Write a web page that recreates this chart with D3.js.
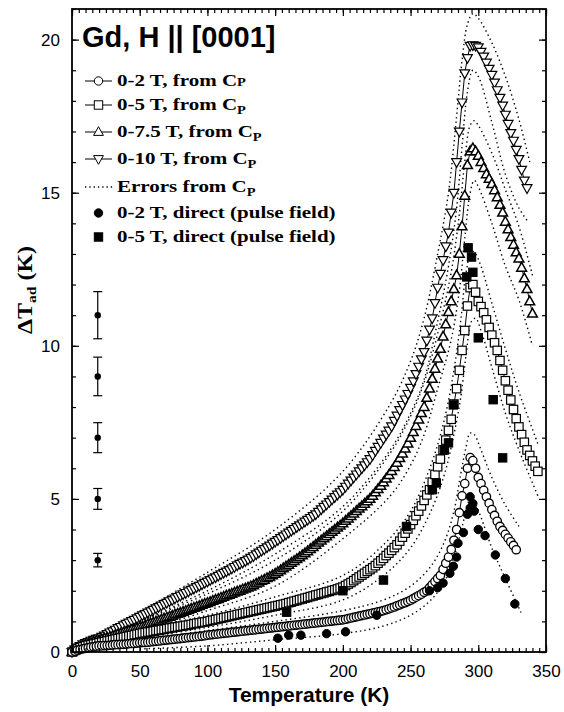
<!DOCTYPE html>
<html><head><meta charset="utf-8">
<script src="https://cdn.jsdelivr.net/npm/d3@7"></script>
<style>body{margin:0;background:#fff}svg{display:block}</style>
</head><body>
<svg id="c" width="564" height="712"></svg>
<script>
// ---------- DATA ----------
const temps = [0,2,4,6,8,10,12,14,16,18,20,22,24,26,28,30,32,34,36,38,40,42,44,46,48,50,52,54,56,58,60,62,64,66,68,70,72,74,76,78,80,82,84,86,88,90,92,94,96,98,
100,102,104,106,108,110,112,114,116,118,120,122,124,126,128,130,132,134,136,138,140,142,144,146,148,150,152,154,156,158,160,162,164,166,168,170,172,174,176,178,180,182,184,186,188,190,192,194,196,198,
200,202,204,206,208,210,212,214,216,218,220,222,224,226,228,230,232,234,236,238,240,242,244,246,248,250,252,254,256,258,260,262,264,266,268,270,272,274,276,278,280,282,284,286,288,290,292,294,296,298,
300,302,304,306,308,310,312,314,316,318,320,322,324,326,328,330,332,334,336,338,340,342,344];

// 0-10 T, from Cp
const cp10 = [0,0.08,0.15,0.20,0.25,0.29,0.33,0.37,0.40,0.43,0.45,0.50,0.54,0.59,0.64,0.68,0.73,0.78,0.82,0.87,0.92,0.96,1.01,1.05,1.10,1.15,1.20,1.24,1.29,1.33,1.38,1.43,1.47,1.52,1.57,1.61,1.66,1.70,1.75,1.80,1.84,1.89,1.93,1.98,2.03,2.07,2.12,2.16,2.21,2.26,
2.30,2.35,2.40,2.44,2.49,2.54,2.59,2.63,2.68,2.73,2.78,2.83,2.88,2.92,2.97,3.02,3.08,3.13,3.19,3.25,3.31,3.36,3.42,3.48,3.54,3.60,3.66,3.72,3.78,3.84,3.90,3.96,4.02,4.08,4.14,4.20,4.26,4.32,4.38,4.44,4.50,4.58,4.66,4.74,4.82,4.90,4.98,5.06,5.14,5.22,
5.30,5.40,5.50,5.60,5.70,5.80,5.90,6.00,6.10,6.20,6.30,6.43,6.57,6.70,6.83,6.97,7.10,7.23,7.37,7.55,7.72,7.90,8.07,8.25,8.43,8.63,8.84,9.08,9.32,9.56,9.80,10.17,10.53,10.90,11.40,11.90,12.35,12.80,13.25,13.70,14.35,15.00,16.00,17.00,17.95,18.90,19.40,19.80,19.82,19.80,
19.75,19.60,19.45,19.25,19.05,18.85,18.60,18.35,18.10,17.85,17.55,17.25,16.95,16.70,16.40,16.10,15.75,15.40,15.15];

// 0-7.5 T, from Cp
const cp75 = [0,0.06,0.11,0.16,0.20,0.24,0.27,0.30,0.33,0.36,0.38,0.41,0.44,0.46,0.49,0.52,0.55,0.58,0.60,0.63,0.66,0.69,0.72,0.74,0.77,0.80,0.83,0.86,0.90,0.93,0.96,0.99,1.02,1.06,1.09,1.12,1.15,1.18,1.22,1.25,1.28,1.31,1.34,1.38,1.41,1.44,1.47,1.50,1.54,1.57,
1.60,1.63,1.67,1.70,1.73,1.77,1.80,1.84,1.87,1.90,1.94,1.97,2.00,2.04,2.07,2.10,2.14,2.18,2.23,2.27,2.32,2.36,2.41,2.45,2.50,2.55,2.61,2.67,2.73,2.79,2.85,2.91,2.97,3.03,3.09,3.16,3.22,3.29,3.36,3.43,3.50,3.57,3.64,3.71,3.78,3.85,3.92,3.99,4.06,4.13,
4.20,4.28,4.36,4.44,4.52,4.60,4.68,4.76,4.84,4.92,5.00,5.10,5.21,5.32,5.43,5.54,5.66,5.78,5.91,6.04,6.18,6.33,6.48,6.64,6.81,6.99,7.18,7.38,7.59,7.80,8.00,8.30,8.60,8.92,9.25,9.58,9.90,10.30,10.70,11.10,11.45,11.85,12.30,13.00,13.90,14.90,15.90,16.35,16.45,16.35,
16.20,16.00,15.80,15.60,15.45,15.28,15.08,14.85,14.60,14.35,14.05,13.80,13.55,13.30,13.05,12.85,12.55,12.20,11.85,11.45,11.05];

// 0-5 T, from Cp
const cp5 = [0,0.05,0.10,0.14,0.17,0.20,0.22,0.24,0.26,0.28,0.30,0.32,0.34,0.36,0.38,0.40,0.42,0.44,0.46,0.48,0.50,0.52,0.54,0.56,0.58,0.60,0.62,0.63,0.65,0.66,0.68,0.70,0.71,0.73,0.74,0.76,0.78,0.79,0.81,0.82,0.84,0.85,0.87,0.88,0.90,0.92,0.94,0.95,0.97,0.98,
1.00,1.02,1.04,1.06,1.08,1.10,1.12,1.14,1.16,1.18,1.20,1.22,1.24,1.26,1.28,1.30,1.32,1.34,1.36,1.38,1.40,1.42,1.44,1.46,1.48,1.50,1.52,1.54,1.56,1.58,1.61,1.63,1.66,1.68,1.71,1.73,1.76,1.78,1.81,1.83,1.86,1.88,1.91,1.93,1.96,1.98,2.01,2.03,2.06,2.09,
2.12,2.17,2.22,2.27,2.33,2.39,2.45,2.51,2.57,2.63,2.69,2.75,2.82,2.90,2.98,3.06,3.15,3.23,3.32,3.41,3.50,3.62,3.75,3.88,4.02,4.16,4.30,4.45,4.60,4.77,4.95,5.13,5.30,5.55,5.80,6.05,6.30,6.60,6.92,7.24,7.60,8.10,8.60,9.20,9.85,10.50,11.30,11.90,12.00,11.75,
11.45,11.28,11.08,10.85,10.60,10.35,10.10,9.85,9.52,9.20,8.86,8.55,8.23,7.92,7.62,7.35,7.10,6.85,6.60,6.42,6.24,6.07,5.90];

// 0-2 T, from Cp
const cp2 = [0,0.03,0.06,0.08,0.10,0.12,0.14,0.16,0.17,0.19,0.20,0.20,0.21,0.21,0.22,0.23,0.24,0.24,0.25,0.25,0.26,0.27,0.28,0.28,0.29,0.30,0.31,0.31,0.32,0.33,0.34,0.35,0.36,0.37,0.38,0.39,0.40,0.41,0.42,0.43,0.44,0.45,0.46,0.47,0.48,0.49,0.50,0.51,0.52,0.53,
0.55,0.56,0.57,0.58,0.59,0.60,0.61,0.62,0.63,0.64,0.65,0.66,0.67,0.68,0.69,0.70,0.71,0.72,0.73,0.74,0.75,0.76,0.77,0.78,0.79,0.80,0.81,0.82,0.83,0.84,0.85,0.86,0.87,0.88,0.89,0.90,0.91,0.92,0.93,0.94,0.95,0.96,0.97,0.98,0.99,1.00,1.01,1.02,1.03,1.04,
1.05,1.07,1.09,1.11,1.13,1.15,1.17,1.19,1.21,1.23,1.25,1.27,1.29,1.31,1.33,1.35,1.38,1.41,1.44,1.47,1.51,1.54,1.58,1.61,1.65,1.69,1.74,1.79,1.84,1.89,1.95,2.00,2.10,2.20,2.30,2.40,2.50,2.70,2.90,3.10,3.35,3.65,4.00,4.55,5.10,5.50,6.00,6.35,6.25,6.00,
5.70,5.50,5.28,5.07,4.86,4.65,4.46,4.27,4.10,3.97,3.84,3.72,3.60,3.48,3.34];

// error bounds from Cp: [T, dTad]
const err10Up = [[50,1.3],[100,2.6],[150,4.0],[200,5.9],[235,8.1],[250,9.5],[260,10.9],[270,13.0],[278,15.0],[284,17.5],[288,19.3],[292,20.5],[296,20.85],[300,20.7],[310,19.9],[320,18.8],[330,17.4],[338,16.0]];
const err10Lo = [[50,1.0],[100,2.0],[150,3.2],[200,4.75],[235,6.6],[250,7.8],[260,8.9],[270,10.8],[278,12.6],[284,14.5],[288,16.5],[292,18.3],[296,19.0],[300,18.8],[310,17.3],[320,15.6],[330,14.5],[336,14.1]];
const err75Up = [[50,1.0],[100,1.9],[150,3.0],[200,4.6],[235,6.5],[250,7.7],[260,8.8],[270,10.4],[280,12.4],[286,14.3],[290,16.0],[294,17.2],[297,17.35],[300,17.2],[310,16.3],[320,15.1],[330,13.9],[340,12.3]];
const err75Lo = [[50,0.65],[100,1.35],[150,2.15],[200,3.7],[235,5.1],[250,6.1],[260,7.1],[270,8.6],[280,10.2],[286,11.8],[290,13.5],[294,15.0],[297,15.4],[300,15.2],[310,14.0],[320,12.6],[330,11.5],[340,10.0]];
const err5Up = [[50,0.75],[100,1.2],[150,1.8],[200,2.5],[230,3.5],[250,4.6],[265,6.1],[275,7.6],[282,9.2],[287,10.8],[291,12.4],[295,13.1],[298,13.0],[302,12.6],[310,11.4],[320,9.9],[330,8.5],[344,6.8]];
const err5Lo = [[50,0.45],[100,0.8],[150,1.2],[200,1.7],[230,2.5],[250,3.4],[265,4.6],[275,5.8],[282,7.1],[287,8.3],[291,9.7],[295,10.8],[298,10.9],[302,10.5],[310,9.3],[320,7.8],[330,6.6],[344,5.1]];
const err2Up = [[50,0.4],[100,0.7],[150,1.0],[200,1.35],[230,1.7],[250,2.15],[265,2.8],[275,3.6],[282,4.6],[287,5.8],[291,6.7],[294,7.15],[297,7.1],[302,6.6],[310,5.7],[320,4.8],[330,4.1]];
const err2Lo = [[50,0.1],[100,0.2],[150,0.4],[200,0.6],[230,0.85],[250,1.2],[265,1.7],[275,2.3],[282,3.1],[287,3.9],[291,4.6],[294,5.0],[297,4.9],[302,4.4],[310,3.4],[320,2.4],[332,1.25]];

// direct (pulse field) measurements: [T, dTad]
const direct2 = [[152,0.45],[160,0.55],[169,0.55],[188,0.6],[202,0.66],[225,1.2],[264,2.0],[270,2.1],[274,2.25],[279,2.57],[281.6,2.8],[284,3.1],[285,3.55],[289,3.9],[292,4.5],[294,4.7],[294,5.07],[296,4.85],[297,4.6],[300,4.0],[305,3.8],[312.6,3.17],[320,2.4],[327,1.57]];
const direct5 = [[158.5,1.3],[200,2.0],[230,2.35],[247,4.1],[266,5.3],[269,5.52],[275,6.6],[278,6.83],[281.6,8.07],[291.5,12.25],[292.5,13.2],[295,12.9],[296,12.4],[300,10.26],[311,8.24],[318,6.34]];

// typical error bars of the direct method (shown at left)
const barT = 19;
const barVals = [3,5,7,9,11];
const barErr = [0.22,0.34,0.49,0.63,0.77];

const xTicks = [0,50,100,150,200,250,300,350];
const yTicks = [0,5,10,15,20];

// ---------- CHART ----------
const svg = d3.select('#c');
const L = 72, R = 546, T0 = 9, B = 652;
const x = d3.scaleLinear().domain([0,350]).range([L,R]);
const y = d3.scaleLinear().domain([0,21]).range([B,T0]);

const pts = vals => vals.map((v,i)=>[temps[i], v]);

const dotted = d3.line().x(d=>x(d[0])).y(d=>y(d[1])).curve(d3.curveCatmullRom.alpha(0.5));
[err10Up,err10Lo,err75Up,err75Lo,err5Up,err5Lo,err2Up,err2Lo].forEach(e=>{
  svg.append('path').attr('d',dotted(e)).attr('fill','none').attr('stroke','#000')
    .attr('stroke-width',1.4).attr('stroke-dasharray','1.4,3.2');
});

const solid = d3.line().x(d=>x(d[0])).y(d=>y(d[1]));
const series = [
  {vals:cp10, sym:'tdown', sw:1.2},
  {vals:cp75, sym:'tup', sw:1.5},
  {vals:cp5, sym:'square', sw:1.2},
  {vals:cp2, sym:'circle', sw:1.3}
];
function drawSym(g, type, cx, cy, filled, sw){
  const fill = filled ? '#000' : '#fff';
  sw = sw || 1;
  if(type==='circle'){
    g.append('circle').attr('cx',cx).attr('cy',cy).attr('r',4.2).attr('fill',fill).attr('stroke','#000').attr('stroke-width',sw);
  } else if(type==='square'){
    g.append('rect').attr('x',cx-4.2).attr('y',cy-4.2).attr('width',8.4).attr('height',8.4).attr('fill',fill).attr('stroke','#000').attr('stroke-width',sw);
  } else if(type==='tup'){
    g.append('path').attr('d',`M${cx},${cy-5.3}L${cx+4.9},${cy+3.4}L${cx-4.9},${cy+3.4}Z`).attr('fill',fill).attr('stroke','#000').attr('stroke-width',sw);
  } else if(type==='tdown'){
    g.append('path').attr('d',`M${cx},${cy+5.3}L${cx+4.9},${cy-3.4}L${cx-4.9},${cy-3.4}Z`).attr('fill',fill).attr('stroke','#000').attr('stroke-width',sw);
  }
}
series.forEach(s=>{
  const p = pts(s.vals);
  svg.append('path').attr('d',solid(p)).attr('fill','none').attr('stroke','#000').attr('stroke-width',1);
  const g = svg.append('g');
  p.forEach(d=>drawSym(g, s.sym, x(d[0]), y(d[1]), false, s.sw));
});

const gd = svg.append('g');
direct2.forEach(d=>drawSym(gd,'circle',x(d[0]),y(d[1]),true));
direct5.forEach(d=>drawSym(gd,'square',x(d[0]),y(d[1]),true));

const ge = svg.append('g');
barVals.forEach((v,i)=>{
  const cx = x(barT);
  ge.append('line').attr('x1',cx).attr('x2',cx).attr('y1',y(v-barErr[i])).attr('y2',y(v+barErr[i])).attr('stroke','#000').attr('stroke-width',1.2);
  [v-barErr[i], v+barErr[i]].forEach(e=>ge.append('line').attr('x1',cx-4.5).attr('x2',cx+4.5).attr('y1',y(e)).attr('y2',y(e)).attr('stroke','#000').attr('stroke-width',1.2));
  ge.append('circle').attr('cx',cx).attr('cy',y(v)).attr('r',3.2).attr('fill','#000');
});

// axes
const font = 'Liberation Sans, Arial, sans-serif';
function styleAxis(g){ g.select('.domain').remove(); g.selectAll('line').attr('stroke','#000').attr('stroke-width',1.2); g.selectAll('text').attr('font-family',font).attr('font-size',17).attr('fill','#000'); }
svg.append('g').attr('transform',`translate(0,${B})`).call(d3.axisBottom(x).tickValues(xTicks).tickSize(-7).tickPadding(13).tickFormat(d3.format('d'))).call(styleAxis);
svg.append('g').attr('transform',`translate(0,${B})`).call(d3.axisBottom(x).tickValues(d3.range(0,351,5)).tickSize(-4).tickFormat('')).call(styleAxis);
svg.append('g').attr('transform',`translate(0,${T0})`).call(d3.axisTop(x).tickValues(xTicks).tickSize(-7).tickFormat('')).call(styleAxis);
svg.append('g').attr('transform',`translate(0,${T0})`).call(d3.axisTop(x).tickValues(d3.range(0,351,5)).tickSize(-4).tickFormat('')).call(styleAxis);
svg.append('g').attr('transform',`translate(${L},0)`).call(d3.axisLeft(y).tickValues(yTicks).tickSize(-7).tickPadding(12).tickFormat(d3.format('d'))).call(styleAxis);
svg.append('g').attr('transform',`translate(${L},0)`).call(d3.axisLeft(y).tickValues(d3.range(0,21.01,1)).tickSize(-4).tickFormat('')).call(styleAxis);
svg.append('g').attr('transform',`translate(${R},0)`).call(d3.axisRight(y).tickValues(yTicks).tickSize(-7).tickFormat('')).call(styleAxis);
svg.append('g').attr('transform',`translate(${R},0)`).call(d3.axisRight(y).tickValues(d3.range(0,21.01,1)).tickSize(-4).tickFormat('')).call(styleAxis);
svg.append('rect').attr('x',L).attr('y',T0).attr('width',R-L).attr('height',B-T0).attr('fill','none').attr('stroke','#000').attr('stroke-width',1.8);

svg.append('text').attr('x',(L+R)/2).attr('y',702).attr('text-anchor','middle')
  .attr('font-family',font).attr('font-weight','bold').attr('font-size',21).text('Temperature (K)');
const serif = 'Liberation Serif, Times New Roman, serif';
const yl = svg.append('text').attr('transform','translate(32,290) rotate(-90) scale(1.2,1)').attr('text-anchor','middle')
  .attr('font-family',serif).attr('font-weight','bold').attr('font-size',20);
yl.append('tspan').text('ΔT');
yl.append('tspan').attr('font-size',13).attr('dy',4).text('ad');
yl.append('tspan').attr('dy',-4).text(' (K)');

svg.append('text').attr('x',82).attr('y',47).attr('font-family',font).attr('font-weight','bold').attr('font-size',29).text('Gd, H || [0001]');

const legRows = [
  {sym:'circle', line:true, txt:'0-2 T, from C', sub:'P', subSmall:true},
  {sym:'square', line:true, txt:'0-5 T, from C', sub:'P'},
  {sym:'tup', line:true, txt:'0-7.5 T, from C', sub:'P'},
  {sym:'tdown', line:true, txt:'0-10 T, from C', sub:'P'},
  {sym:null, dotted:true, txt:'Errors from C', sub:'P'},
  {sym:'circle', filled:true, txt:'0-2 T, direct (pulse field)'},
  {sym:'square', filled:true, txt:'0-5 T, direct (pulse field)'}
];
const legBase = [86,110,137,164,192,218,242];
const gl = svg.append('g');
legRows.forEach((r,i)=>{
  const by = legBase[i], cy = by-5;
  if(r.line) gl.append('line').attr('x1',85).attr('x2',112).attr('y1',cy).attr('y2',cy).attr('stroke','#000').attr('stroke-width',1);
  if(r.dotted) gl.append('line').attr('x1',85).attr('x2',113).attr('y1',cy).attr('y2',cy).attr('stroke','#000').attr('stroke-width',1.3).attr('stroke-dasharray','1.3,3');
  if(r.sym) drawSym(gl, r.sym, 98.5, cy, !!r.filled);
  const t = gl.append('text').attr('transform',`translate(117,${by}) scale(1.2,1)`)
    .attr('font-family',serif).attr('font-weight','bold').attr('font-size',17.5);
  t.append('tspan').text(r.txt);
  if(r.sub){
    if(r.subSmall) t.append('tspan').attr('font-size',12).text(r.sub);
    else t.append('tspan').attr('font-size',12).attr('dy',4).text(r.sub);
  }
});
</script>
</body></html>
